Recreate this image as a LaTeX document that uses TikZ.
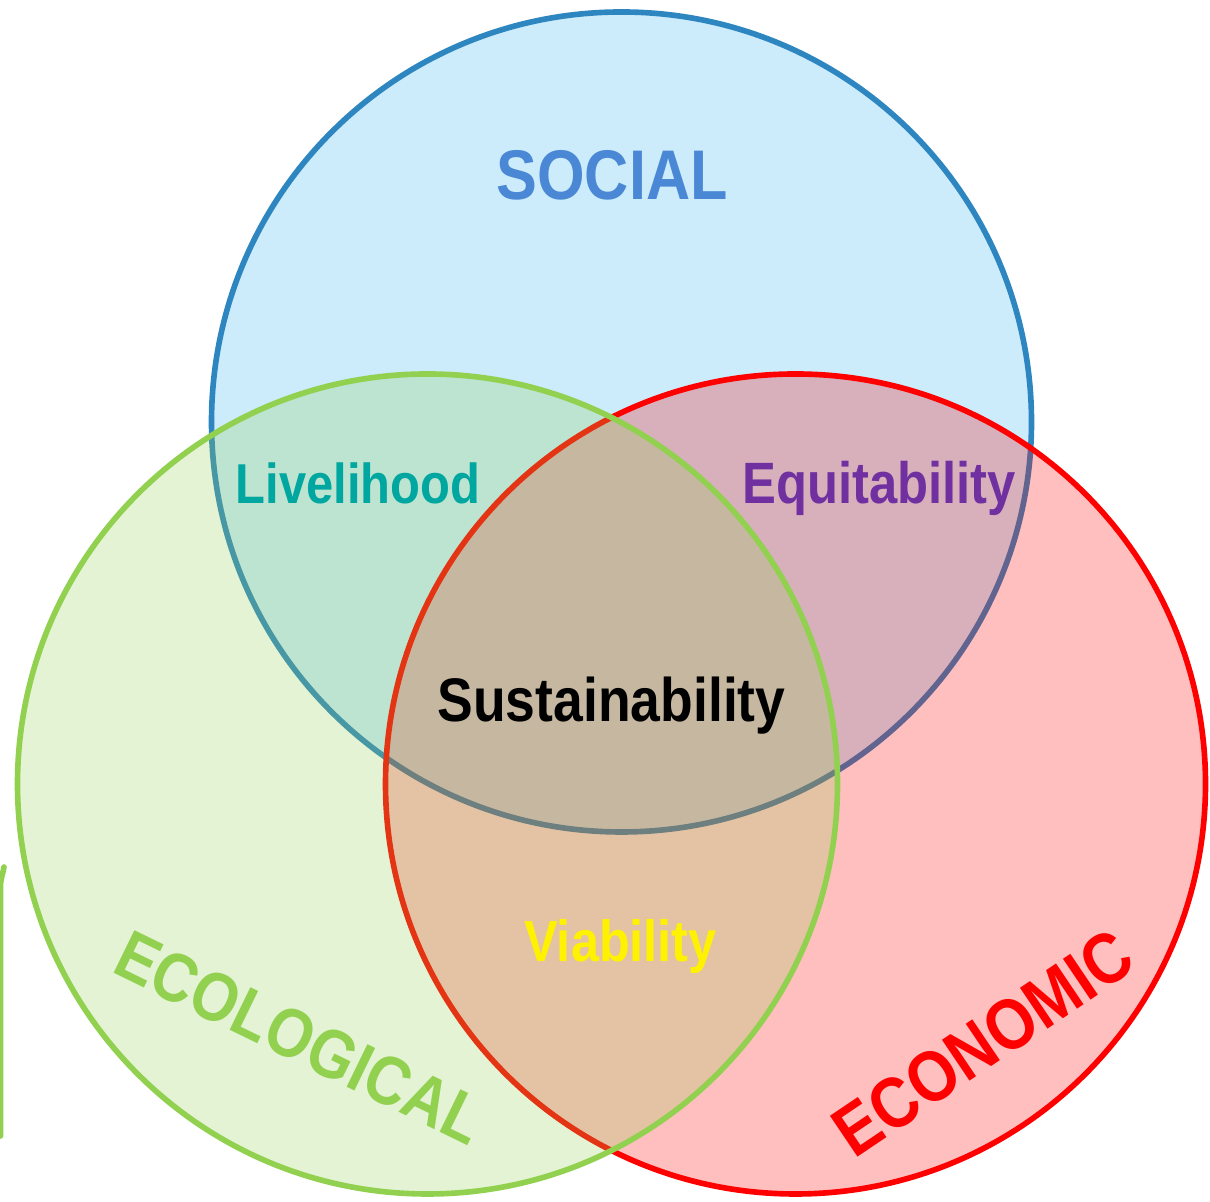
\documentclass[tikz,border=0pt]{standalone}
\usepackage{fontspec}
\newfontfamily\vennfont{Liberation Sans}[FakeStretch=0.87]
\definecolor{socialfill}{HTML}{CCEBFB}
\definecolor{socialline}{HTML}{2E86C1}
\definecolor{ecogreen}{HTML}{92D050}
\definecolor{socialtext}{HTML}{4A88D6}
\definecolor{livetext}{HTML}{00A6A0}
\definecolor{equitext}{HTML}{7030A0}

\begin{document}
\begin{tikzpicture}[ring/.style={line width=1.6pt}, lbl/.style={font=\vennfont\bfseries\fontsize{#1}{#1}\selectfont, inner sep=0pt}]
	\useasboundingbox (0,0) rectangle (12.10,12.02);
	% the three circles
	\draw[ring, draw=socialline, fill=socialfill] (6.215,7.80) circle (4.10);
	\fill[red, fill opacity=0.25] (7.955,4.18) circle (4.10);
	\draw[ring, red] (7.955,4.18) circle (4.10);
	\fill[ecogreen, fill opacity=0.25] (4.275,4.18) circle (4.10);
	\draw[ring, ecogreen] (4.275,4.18) circle (4.10);
	\draw[ring, ecogreen, line cap=round] (0.04,3.35) to[out=-100,in=90] (0.005,3.15) -- (0.005,0.66);
	% labels
	\node[lbl=20, text=socialtext, anchor=base] (social) at (6.12,10.02) {SOCIAL};
	\node[lbl=17.5, text=black, anchor=base] (sustain) at (6.115,4.80) {Sustainability};
	\node[lbl=16, text=livetext, anchor=base] (live) at (3.58,6.98) {Livelihood};
	\node[lbl=16.6, text=equitext, anchor=base] (equi) at (8.79,6.98) {Equitability};
	\node[lbl=16.5, text=yellow, anchor=base] (viab) at (6.205,2.40) {Viability};
	\node[lbl=19.6, text=ecogreen, rotate=-26] (eco) at (3.00,1.64) {ECOLOGICAL};
	\node[lbl=20.4, text=red, rotate=34] (econ) at (9.83,1.59) {ECONOMIC};
\end{tikzpicture}
\end{document}
